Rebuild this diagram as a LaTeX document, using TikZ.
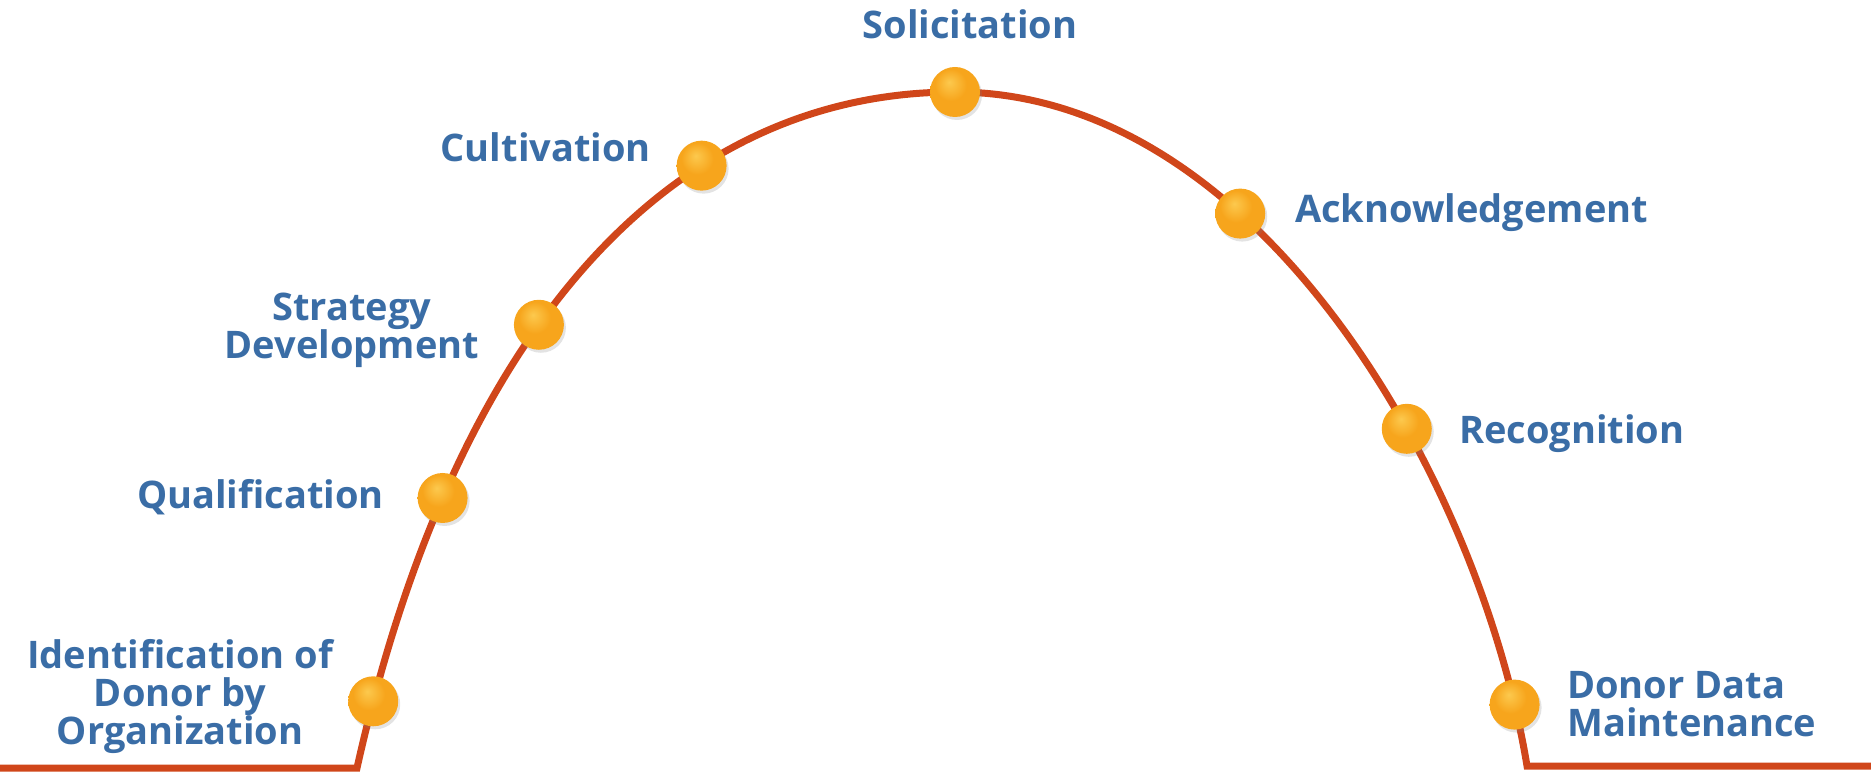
\documentclass[tikz,border=0pt]{standalone}
\usepackage{fontspec}
\setmainfont{Open Sans}
\usetikzlibrary{shadows}
\definecolor{arccol}{HTML}{D0461A}
\definecolor{txtcol}{HTML}{3A6DA6}
\definecolor{ballhi}{HTML}{FCC94E}
\definecolor{ballmid}{HTML}{F7A51C}
\definecolor{balldark}{HTML}{CF8512}
\pgfdeclareradialshading{orangeball}{\pgfpoint{-6bp}{10bp}}{color(0bp)=(ballhi); color(16bp)=(ballmid); color(40bp)=(ballmid); color(56bp)=(balldark)}
\begin{document}
\begin{tikzpicture}[x=1pt,y=-1pt,
  lbl/.style={text=txtcol, font=\fontsize{38}{38}\selectfont\bfseries, inner sep=0pt, align=center},
  ball/.style={circle, minimum size=50pt, inner sep=0pt, shading=orangeball,
    drop shadow={opacity=0.22, shadow xshift=2pt, shadow yshift=-3pt}},
  arcline/.style={draw=arccol, line width=7pt, line join=miter}]
\useasboundingbox (0,0) rectangle (1871,775);

\coordinate (L) at (0,768);
\coordinate (Lc) at (357,768);
\coordinate (Top) at (955,92);
\coordinate (Rc) at (1527,766);
\coordinate (R) at (1871,766);

\draw[arcline] (L) -- (Lc) .. controls (455,330) and (670,92) .. (Top)
    node[ball,pos=0.052] (n1) {}
    node[ball,pos=0.23] (n2) {}
    node[ball,pos=0.42] (n3) {}
    node[ball,pos=0.676] (n4) {}
  .. controls (1260,92) and (1480,480) .. (Rc)
    node[ball,pos=0.35] (n6) {}
    node[ball,pos=0.627] (n7) {}
    node[ball,pos=0.93] (n8) {}
  -- (R);
\node[ball] (n5) at (Top) {};

\node[lbl, anchor=base] (tSol) at (970,39) {Solicitation};
\node[lbl, anchor=base east] (tCul) at (651,162) {Cultivation};
\node[lbl, anchor=base] (tStr) at (352,359) {Strategy\\Development};
\node[lbl, anchor=base east] (tQua) at (384,508) {Qualification};
\node[lbl, anchor=base] (tIde) at (180,744) {Identification of\\Donor by\\Organization};
\node[lbl, anchor=base west] (tAck) at (1295,223) {Acknowledgement};
\node[lbl, anchor=base west] (tRec) at (1459,443) {Recognition};
\node[lbl, anchor=base west, align=left] (tDon) at (1567,736) {Donor Data\\Maintenance};
\end{tikzpicture}
\end{document}
